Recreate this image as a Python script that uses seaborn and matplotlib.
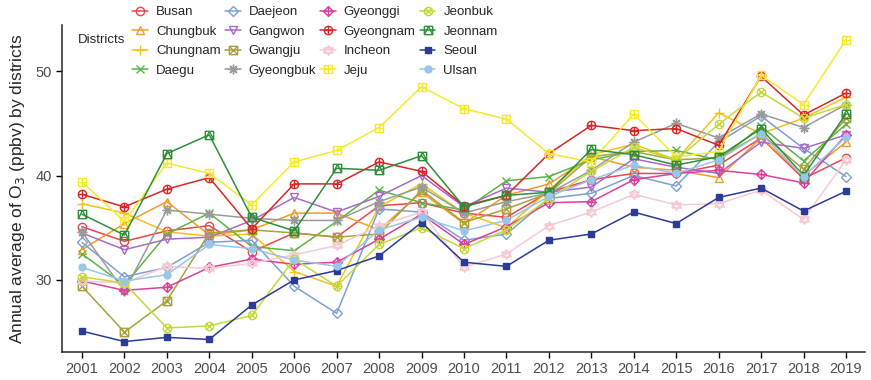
import numpy as np
import pandas as pd
import seaborn as sns
import matplotlib.pyplot as plt
from matplotlib.path import Path

years = list(range(2001, 2020))

districts = ["Busan", "Chungbuk", "Chungnam", "Daegu", "Daejeon", "Gangwon", "Gwangju", "Gyeongbuk",
             "Gyeonggi", "Gyeongnam", "Incheon", "Jeju", "Jeonbuk", "Jeonnam", "Seoul", "Ulsan"]

busan = [35.1, 33.7, 34.7, 35.2, 32.7, 34.5, 34.1, 37.1, 37.4, 36.4, 36.0, 38.4, 39.6, 40.2, 40.2, 41.0, 43.6, 39.7, 41.7]
chungbuk = [32.9, 35.4, 37.5, 34.3, 34.8, 36.4, 36.4, 34.8, 38.4, 35.4, 38.1, 39.2, 41.8, 40.8, 40.5, 39.8, 43.6, 40.0, 43.2]
chungnam = [37.3, 36.4, 34.6, 34.2, 34.4, 30.8, 29.4, 37.0, 39.2, 36.4, 35.0, 38.6, 42.0, 43.0, 41.5, 46.0, 44.0, 45.5, 47.5]
daegu = [32.5, 29.5, 34.4, 36.4, 33.2, 32.8, 35.6, 38.6, 37.4, 36.7, 39.5, 39.9, 41.5, 42.3, 42.4, 41.5, 44.7, 41.4, 44.9]
daejeon = [33.6, 30.3, 31.2, 33.6, 33.8, 29.4, 26.8, 36.8, 36.5, 33.8, 34.4, 37.8, 38.3, 40.0, 39.0, 43.2, 45.7, 42.6, 39.9]
gangwon = [34.5, 32.9, 33.9, 34.1, 35.7, 37.9, 36.5, 38.0, 40.0, 37.0, 38.8, 38.4, 38.9, 41.6, 40.8, 40.2, 43.2, 42.6, 43.9]
gwangju = [29.4, 25.0, 28.0, 34.5, 34.8, 34.5, 34.1, 34.4, 38.6, 35.5, 36.8, 38.3, 41.8, 42.3, 41.5, 41.7, 44.0, 40.6, 45.5]
gyeongbuk = [34.6, 28.9, 36.7, 36.3, 35.9, 35.7, 35.7, 37.5, 38.9, 36.4, 37.5, 38.3, 40.5, 43.2, 45.0, 43.6, 45.9, 44.6, 46.8]
gyeonggi = [29.9, 29.0, 29.3, 31.2, 32.0, 31.5, 31.7, 33.9, 36.3, 33.4, 35.1, 37.4, 37.5, 39.6, 40.2, 40.5, 40.1, 39.3, 43.9]
gyeongnam = [38.2, 37.0, 38.7, 39.8, 34.9, 39.2, 39.2, 41.3, 40.4, 37.1, 38.1, 42.1, 44.8, 44.3, 44.5, 42.9, 49.5, 45.8, 47.9]
incheon = [29.9, 29.7, 31.3, 31.1, 31.6, 32.4, 33.3, 35.2, 36.5, 31.2, 32.5, 35.2, 36.5, 38.2, 37.2, 37.3, 38.6, 35.8, 41.5]
jeju = [39.4, 35.6, 41.2, 40.2, 37.2, 41.3, 42.4, 44.6, 48.5, 46.4, 45.4, 42.1, 41.3, 45.9, 41.8, 42.3, 49.6, 46.8, 53.0]
jeonbuk = [30.3, 29.7, 25.4, 25.6, 26.6, 32.0, 29.4, 33.4, 35.0, 33.0, 34.8, 37.8, 40.4, 42.7, 41.5, 44.9, 48.0, 45.5, 46.8]
jeonnam = [36.3, 34.3, 42.1, 43.9, 36.0, 34.7, 40.7, 40.5, 41.9, 37.0, 38.1, 38.4, 42.5, 42.0, 41.0, 41.8, 44.5, 40.0, 45.9]
seoul = [25.1, 24.1, 24.5, 24.3, 27.6, 30.0, 30.9, 32.3, 35.5, 31.7, 31.3, 33.8, 34.4, 36.5, 35.4, 37.9, 38.8, 36.6, 38.5]
ulsan = [31.2, 29.9, 30.5, 33.4, 33.0, 31.9, 31.3, 34.8, 36.0, 34.7, 35.7, 38.0, 39.6, 41.0, 40.2, 41.5, 44.0, 39.9, 43.7]

values = [busan, chungbuk, chungnam, daegu, daejeon, gangwon, gwangju, gyeongbuk,
          gyeonggi, gyeongnam, incheon, jeju, jeonbuk, jeonnam, seoul, ulsan]

colors = ["#E8474B", "#F39B2A", "#F2C21B", "#5DB446", "#7F9FD2", "#A76BC9", "#A7A23A", "#9A9A9A",
          "#D8429C", "#D62728", "#F6C9D3", "#F4EA2A", "#C4D93A", "#2F8E3A", "#2B3C97", "#98C6EA"]

df = pd.DataFrame({
    "year": np.tile(years, len(districts)),
    "district": np.repeat(districts, len(years)),
    "o3": np.concatenate(values),
})


# ggplot-like shapes 1..16
def box(extra):
    verts = [(-1, -1), (1, -1), (1, 1), (-1, 1), (-1, -1)]
    codes = [Path.MOVETO] + [Path.LINETO] * 4
    for a, b in extra:
        verts += [a, b]
        codes += [Path.MOVETO, Path.LINETO]
    return Path(verts, codes)


def circ(extra):
    t = np.linspace(0, 2 * np.pi, 33)
    verts = list(zip(np.cos(t), np.sin(t)))
    codes = [Path.MOVETO] + [Path.LINETO] * 32
    for a, b in extra:
        verts += [a, b]
        codes += [Path.MOVETO, Path.LINETO]
    return Path(verts, codes)


def diamond_plus():
    verts = [(0, -1), (1, 0), (0, 1), (-1, 0), (0, -1), (0, -1), (0, 1), (-1, 0), (1, 0)]
    codes = [Path.MOVETO] + [Path.LINETO] * 4 + [Path.MOVETO, Path.LINETO, Path.MOVETO, Path.LINETO]
    return Path(verts, codes)


def star_david():
    h = 0.5
    verts = [(-1, -h), (1, -h), (0, 1), (-1, -h), (-1, h), (1, h), (0, -1), (-1, h)]
    codes = [Path.MOVETO, Path.LINETO, Path.LINETO, Path.LINETO] * 2
    return Path(verts, codes)


d = 0.72
markers = ["o", "^", "+", "x", "D", "v",
           box([((-1, -1), (1, 1)), ((-1, 1), (1, -1))]),
           (8, 2, 0),
           diamond_plus(),
           circ([((0, -1), (0, 1)), ((-1, 0), (1, 0))]),
           star_david(),
           box([((0, -1), (0, 1)), ((-1, 0), (1, 0))]),
           circ([((-d, -d), (d, d)), ((-d, d), (d, -d))]),
           box([((-1, -1), (0, 1)), ((0, 1), (1, -1))]),
           "s", "o"]
filled = [False] * 14 + [True, True]
sizes = [6, 6, 7, 6, 5, 6, 6, 7, 7, 6, 7, 6, 6, 6, 5, 5]

sns.set_style("ticks")
plt.rcParams["font.family"] = ["Liberation Sans", "DejaVu Sans"]

fig = plt.figure(figsize=(8.71, 3.8), dpi=100)
ax = fig.add_axes([0.0712, 0.0737, 0.922, 0.86])

for i, name in enumerate(districts):
    sub = df[df["district"] == name]
    sns.lineplot(data=sub, x="year", y="o3", ax=ax, color=colors[i], linewidth=1.1,
                 marker=markers[i], markersize=sizes[i], markeredgewidth=1.0,
                 markerfacecolor=colors[i] if filled[i] else "none",
                 markeredgecolor=colors[i], label=name)

ax.set_xlim(2000.53, 2019.45)
ax.set_ylim(23.1, 54.4)
ax.set_xticks(years)
ax.set_yticks([30, 40, 50])
ax.tick_params(axis="both", labelsize=10.5, length=4, width=1, colors="black", labelcolor="#4D4D4D")
for s in ["top", "right"]:
    ax.spines[s].set_visible(False)
for s in ["left", "bottom"]:
    ax.spines[s].set_linewidth(1.1)
ax.set_xlabel("")
ax.set_ylabel("Annual average of O$_3$ (ppbv) by districts", fontsize=12.5, labelpad=6)

ax.get_legend().remove()
handles, labels = ax.get_legend_handles_labels()
fig.legend(handles, labels, ncol=4, loc="upper left", bbox_to_anchor=(0.140, 1.012),
           frameon=False, fontsize=9.5, handlelength=1.2, handletextpad=0.6,
           columnspacing=0.3, labelspacing=0.55, borderpad=0.3)
fig.text(0.0895, 0.895, "Districts", fontsize=9.5, va="center", ha="left")

fig.savefig("out.png", dpi=100)
